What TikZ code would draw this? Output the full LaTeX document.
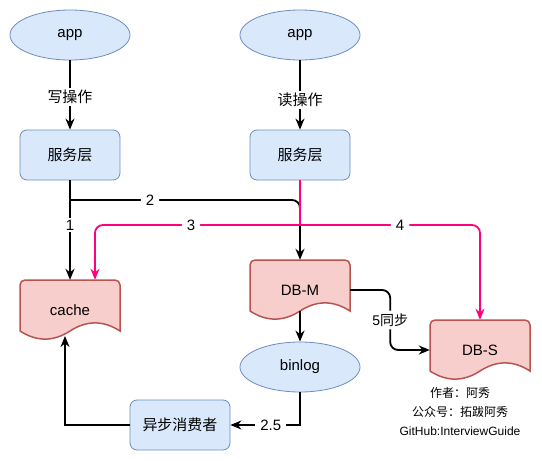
\documentclass[tikz,border=0pt]{standalone}
\usepackage{fontspec}
\setmainfont{Liberation Sans}
\newfontfamily\cjk{Noto Sans CJK SC}
\usetikzlibrary{arrows.meta,shapes.geometric,calc}
\definecolor{bfill}{HTML}{DAE8FC}
\definecolor{bline}{HTML}{6C8EBF}
\definecolor{rfill}{HTML}{F8CECC}
\definecolor{rline}{HTML}{B85450}
\definecolor{pk}{HTML}{FF0080}
\tikzset{
  ell/.style={ellipse, draw=bline, fill=bfill, line width=0.8pt, minimum width=120pt, minimum height=50pt, inner sep=0pt, font=\fontsize{15}{18}\selectfont},
  box/.style={rectangle, rounded corners=7pt, draw=bline, fill=bfill, line width=0.8pt, minimum width=100pt, minimum height=50pt, inner sep=0pt, font=\fontsize{15}{18}\selectfont},
  docnode/.style={rectangle, minimum width=100pt, minimum height=60pt, inner sep=0pt, font=\fontsize{15}{18}\selectfont},
  docdraw/.style={draw=rline, fill=rfill, line width=1.5pt},
  edge/.style={draw=black, line width=1.8pt, -{Stealth[length=11pt,width=9pt,inset=3.5pt]}},
  pedge/.style={draw=pk, line width=1.8pt, -{Stealth[length=11pt,width=9pt,inset=3.5pt]}},
  lbl/.style={fill=white, inner xsep=5pt, inner ysep=2pt, font=\fontsize{15}{18}\selectfont},
  lbls/.style={fill=white, inner xsep=2pt, inner ysep=3pt, font=\fontsize{14}{17}\selectfont},
  foot/.style={inner sep=0pt, font=\fontsize{12}{14}\selectfont},
}
\newcommand\docshape[1]{%
  \begin{scope}[shift={(#1.center)}]
    \path[docdraw] (-50,0) [rounded corners=5pt] -- (-50,-30) -- (50,-30) -- (50,0) [sharp corners] -- (50,21)
      .. controls (33.33,10.2) and (16.67,10.2) .. (0,21)
      .. controls (-16.67,31.8) and (-33.33,31.8) .. (-50,21) -- cycle;
  \end{scope}}
\begin{document}
\begin{tikzpicture}[x=1pt,y=-1pt]
\useasboundingbox (0,0) rectangle (542,461);
% shapes
\node[ell] (app1) at (70,35) {app};
\node[ell] (app2) at (300,35) {app};
\node[box] (svc1) at (70,155) {\cjk 服务层};
\node[box] (svc2) at (300,155) {\cjk 服务层};
\node[docnode] (cache) at (70,310) {};
\node[docnode] (dbm) at (300,290) {};
\node[docnode] (dbs) at (480,350) {};
\docshape{cache}
\docshape{dbm}
\docshape{dbs}
\node[docnode] at (cache.center) {cache};
\node[docnode] at (dbm.center) {DB-M};
\node[docnode] at (dbs.center) {DB-S};
\node[ell] (binlog) at (300,367) {binlog};
\node[box] (async) at (180,425) {\cjk 异步消费者};
% footer
\node[foot] (f1) at (460,393) {\cjk 作者：阿秀};
\node[foot] (f2) at (460,412) {\cjk 公众号：拓跋阿秀};
\node[foot] (f3) at (460,431) {GitHub:InterviewGuide};
% connectors
\coordinate (b2) at (70,200);
\coordinate (pj) at (300,225);
\draw[edge] (app1) -- node[lbl, pos=0.53] {\cjk 写操作} (svc1);
\draw[edge] (app2) -- node[lbl, pos=0.57] {\cjk 读操作} (svc2);
\draw[edge] (svc1.south) -- node[lbl, pos=0.45] {1} (cache.north);
\draw[edge, rounded corners=8pt] (b2) -| node[lbl, pos=0.174] {2} (dbm.north);
\draw[pk, line width=1.8pt] (svc2.south) -- (pj);
\draw[pedge, rounded corners=8pt] (pj) -| node[lbl, pos=0.266] {3} ([xshift=25pt]cache.north);
\draw[pedge, rounded corners=8pt] (pj) -| node[lbl, pos=0.278] {4} (dbs.north);
\draw[edge] ([yshift=-21pt]dbm.center) -- (binlog.north);
\draw[edge, rounded corners=8pt] (dbm.east) -- ++(40,0) -- node[lbls] {5\cjk 同步} ++(0,60) -- (dbs.west);
\draw[edge] (binlog.south) |- node[lbl, pos=0.71] {2.5} (async.east);
\draw[edge] (async.west) -| ([xshift=-5pt, yshift=-26pt]cache.center);
\end{tikzpicture}
\end{document}
